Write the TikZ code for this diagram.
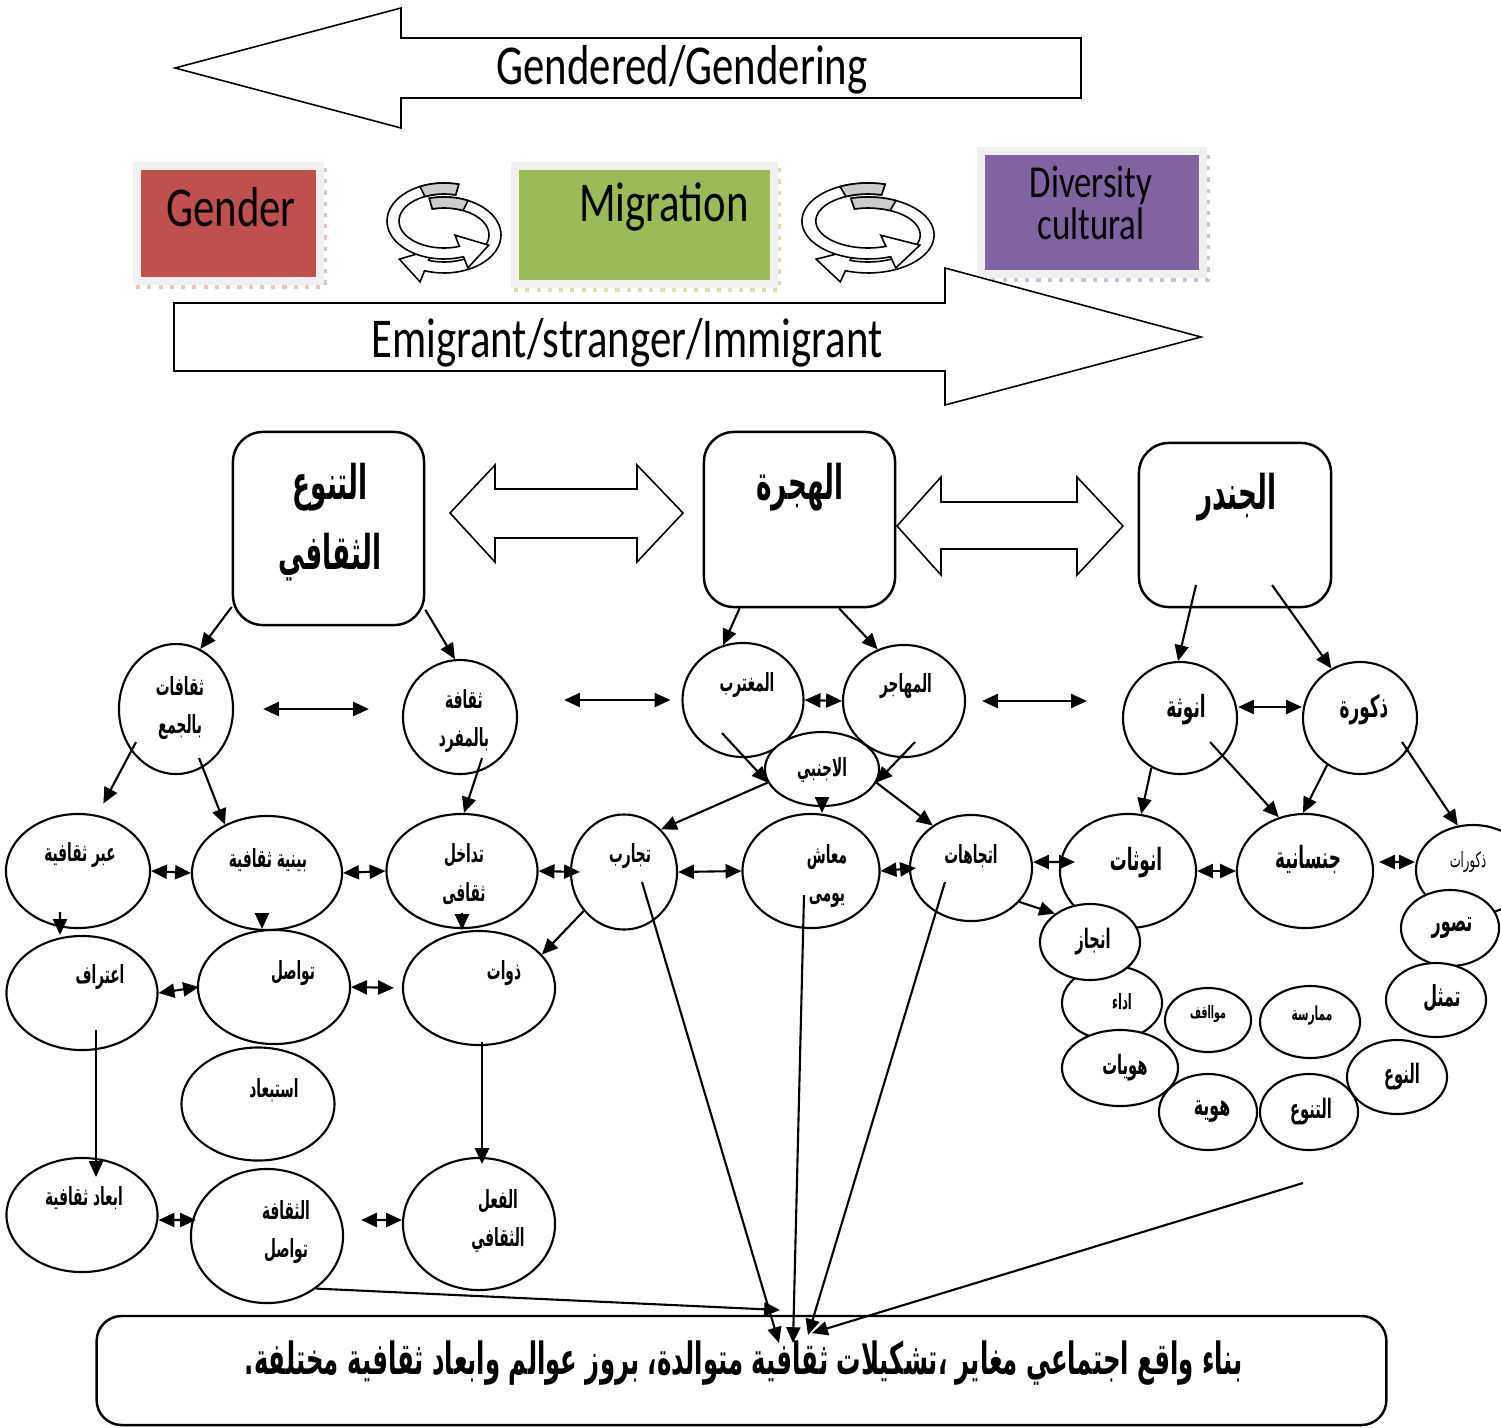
\documentclass[tikz,border=0pt]{standalone}
\usepackage{fontspec}
\setmainfont{Liberation Sans}
\newfontfamily\arabicfont[Script=Arabic, FakeStretch=0.55]{DejaVu Sans}
\newfontfamily\enfont{Carlito}[FakeStretch=0.76]
\TeXXeTstate=1
\usetikzlibrary{shapes.geometric,arrows.meta}
\definecolor{genred}{HTML}{C0504D}
\definecolor{miggreen}{HTML}{9BBB59}
\definecolor{divpurple}{HTML}{8064A2}
\newcommand\artxt[1]{\beginR #1\endR}

\begin{document}
\begin{tikzpicture}[x=0.01cm, y=-0.01cm,
	bub/.style={ellipse, draw, fill=white, line width=0.6pt, inner sep=0pt},
	lbl/.style={font=\arabicfont\bfseries\fontsize{#1}{11}\selectfont, align=center, inner sep=0pt},
	ttl/.style={font=\arabicfont\bfseries\fontsize{13.6}{20}\selectfont, align=center, inner sep=0pt},
	entxt/.style={font=\enfont\fontsize{16}{20}\selectfont, inner sep=0pt},
	topbox/.style={draw, rounded corners=0.3cm, line width=0.7pt},
	tile/.style={draw=black!6, line width=0.08cm, inner sep=0pt},
	blk/.style={draw, fill=white, line width=0.45pt},
	arr/.style={-{Triangle[length=4.5pt,width=4pt]}, line width=0.6pt},
	dbl/.style={{Triangle[length=4.5pt,width=4pt]}-{Triangle[length=4.5pt,width=4pt]}, line width=0.6pt}]
	\useasboundingbox (0,0) rectangle (1501,1427);

	% block arrows at the top
	\draw[blk] (175,68) -- (401,8) -- (401,38) -- (1081,38) -- (1081,98) -- (401,98) -- (401,128) -- cycle;
	\node[entxt] (gendering) at (682,70) {Gendered/Gendering};

	% coloured tiles
	\draw[genred!35, line width=1.2pt, dotted] (136,287) -- (325,287) -- (325,166);
	\draw[miggreen!45, line width=1.2pt, dotted] (514,290) -- (779,290) -- (779,166);
	\draw[divpurple!40, line width=1.2pt, dotted] (980,280) -- (1208,280) -- (1208,151);
	\node[tile, fill=genred, minimum width=1.83cm, minimum height=1.15cm] (gender) at (228.5,223.5) {};
	\node[tile, fill=miggreen, minimum width=2.59cm, minimum height=1.18cm] (migration) at (644.5,225) {};
	\node[tile, fill=divpurple, minimum width=2.22cm, minimum height=1.23cm] (diversity) at (1092,212.5) {};
	\node[entxt] (gender-t) at (231,207) {Gender};
	\node[entxt] (migration-t) at (664,207) {Migration};
	\node[entxt, font=\enfont\fontsize{13}{11}\selectfont, align=center] (diversity-t) at (1091,203) {Diversity\\cultural};

	% turning arrows
	\def\cycarr{
		\filldraw[fill=white, line width=0.45pt] plot[domain=-105:110, samples=40] ({57*cos(\x)},{14+38*sin(\x)})
			-- (-23.9,60.9) -- (-44.7,38.2) -- (-11,28.2)
			-- plot[domain=110:-105, samples=40] ({45*cos(\x)},{14+27*sin(\x)}) -- cycle;
		\filldraw[fill=black!20, line width=0.45pt] plot[domain=-105:-65, samples=10] ({57*cos(\x)},{14+38*sin(\x)})
			-- plot[domain=-65:-105, samples=10] ({45*cos(\x)},{14+27*sin(\x)}) -- cycle;
		\filldraw[fill=white, line width=0.45pt] plot[domain=-75:-290, samples=40] ({57*cos(\x)},{38*sin(\x)})
			-- (23.9,46.9) -- (44.7,24.2) -- (11,14.2)
			-- plot[domain=-290:-75, samples=40] ({45*cos(\x)},{27*sin(\x)}) -- cycle;
		\filldraw[fill=black!20, line width=0.45pt] plot[domain=-75:-115, samples=10] ({57*cos(\x)},{38*sin(\x)})
			-- plot[domain=-115:-75, samples=10] ({45*cos(\x)},{27*sin(\x)}) -- cycle;
	}
	\begin{scope}[shift={(444,221)}]
		\cycarr
	\end{scope}
	\begin{scope}[shift={(868,221)}, xscale=1.16]
		\cycarr
	\end{scope}

	\draw[blk] (174,303) -- (945,303) -- (945,268) -- (1201,337) -- (945,405) -- (945,371) -- (174,371) -- cycle;
	\node[entxt] (emigrant) at (627,343) {Emigrant/stranger/Immigrant};

	% three main boxes
	\node[topbox, minimum width=1.91cm, minimum height=1.93cm] (tanawwu) at (328.5,528.5) {};
	\node[topbox, minimum width=1.91cm, minimum height=1.75cm] (hijra) at (799.5,519.5) {};
	\node[topbox, minimum width=1.92cm, minimum height=1.64cm] (jender) at (1235,525) {};
	\node[ttl] (tanawwu-t) at (330,522) {\artxt{التنوع}\\\artxt{الثقافي}};
	\node[ttl] (hijra-t) at (800,487) {\artxt{الهجرة}};
	\node[ttl] (jender-t) at (1237,497) {\artxt{الجندر}};
	\draw[blk] (450,513) -- (495,465) -- (495,489) -- (637,489) -- (637,465) -- (683,513)
		-- (637,562) -- (637,538) -- (495,538) -- (495,562) -- cycle;
	\draw[blk] (897,526) -- (941,477) -- (941,502) -- (1077,502) -- (1077,477) -- (1123,526)
		-- (1077,575) -- (1077,549) -- (941,549) -- (941,575) -- cycle;

	% ellipses: name/x/y/width/height/text x/text y/size/text
	\foreach \n/\x/\y/\w/\h/\tx/\ty/\fs/\t in {
		jam/176/709/1.14/1.30/180/708/7.1/{\artxt{ثقافات}\\\artxt{بالجمع}},
		mufrad/460/717/1.14/1.14/464/721/7.1/{\artxt{ثقافة}\\\artxt{بالمفرد}},
		abr/78/871/1.44/1.14/80/855/7.1/{\artxt{عبر ثقافية}},
		bayni/267/873/1.50/1.14/268/860/7.1/{\artxt{بينية ثقافية}},
		tadakhul/462/871/1.51/1.14/464/874/7.1/{\artxt{تداخل}\\\artxt{ثقافى}},
		itiraf/82/993/1.51/1.14/100/977/7.1/{\artxt{اعتراف}},
		tawasul/274/987/1.52/1.14/293/973/7.1/{\artxt{تواصل}},
		dhawat/479/988/1.52/1.14/504/973/7.1/{\artxt{ذوات}},
		istibad/258/1104/1.53/1.13/274/1090/7.1/{\artxt{استبعاد}},
		abad/82/1215/1.51/1.14/84/1198/7.1/{\artxt{ابعاد ثقافية}},
		thaqafa/267/1236/1.52/1.34/286/1232/7.1/{\artxt{الثقافة}\\\artxt{تواصل}},
		fil/479/1224/1.52/1.32/498/1221/7.1/{\artxt{الفعل}\\\artxt{الثقافي}},
		mughtarib/743/700/1.21/1.14/747/685/7.1/{\artxt{المغترب}},
		muhajir/904/701/1.22/1.12/906/686/7.1/{\artxt{المهاجر}},
		ajnabi/822/769/1.14/0.74/822/770/7.1/{\artxt{الاجنبي}},
		tajarib/624/872/1.06/1.15/630/856/7.1/{\artxt{تجارب}},
		maash/811/871/1.37/1.14/827/876/7.1/{\artxt{معاش}\\\artxt{يومى}},
		ittijahat/971/868/1.22/1.06/971/856/7.1/{\artxt{اتجاهات}},
		unutha/1180/718/1.14/1.12/1186/710/8.7/{\artxt{انوثة}},
		dhukura/1360/718/1.14/1.12/1364/710/8.7/{\artxt{ذكورة}},
		unuthat/1128/871/1.36/1.14/1136/863/8.7/{\artxt{انوثات}},
		jinsaniya/1305/871/1.36/1.14/1308/860/8.7/{\artxt{جنسانية}},
		dhukurat/1473/870/1.14/0.90/1468/862/6/{\mdseries\artxt{ذكورات}},
		tasawwur/1450/928/0.98/0.76/1452/928/8.2/{\artxt{تصور}},
		tamaththul/1436/1000/1.00/0.74/1442/998/8.2/{\artxt{تمثل}},
		adaa/1112/1003/1.00/0.74/1122/1002/6/{\artxt{اداء}},
		huwiyyat/1120/1068/1.16/0.76/1125/1068/7.6/{\artxt{هويات}},
		injaz/1090/942/1.00/0.76/1093/942/7.6/{\artxt{انجاز}},
		mawaqif/1208/1020/0.86/0.64/1208/1014/4.9/{\artxt{موااقف}},
		mumarasa/1310/1022/1.00/0.72/1312/1015/5.5/{\artxt{ممارسة}},
		huwiya/1208/1112/0.98/0.76/1212/1112/8.2/{\artxt{هوية}},
		altanawwu/1309/1112/0.98/0.76/1311/1112/7.6/{\artxt{التنوع}},
		naw/1397/1077/1.00/0.74/1402/1077/7.6/{\artxt{النوع}}} {
		\node[bub, minimum width=\w cm, minimum height=\h cm] (\n) at (\x,\y) {};
		\node[lbl=\fs] (\n-t) at (\tx,\ty) {\t};
	}

	% from the main boxes
	\draw[arr] (tanawwu.219) -- (jam.68);
	\draw[arr] (tanawwu.-40) -- (mufrad.95);
	\draw[arr] (hijra.-124) -- (mughtarib.110);
	\draw[arr] (hijra.-66) -- (muhajir.117);
	\draw[arr] ([xshift=-0.39cm,yshift=-0.6cm]jender.center) -- (unutha.92);
	\draw[arr] ([xshift=0.37cm,yshift=-0.6cm]jender.center) -- (dhukura.120);

	% left cluster
	\draw[arr, shorten >=0.13cm] ([xshift=-0.4cm,yshift=-0.33cm]jam.center) -- (abr.71);
	\draw[arr] ([xshift=0.23cm,yshift=-0.49cm]jam.center) -- (bayni.131);
	\draw[arr] ([xshift=0.22cm,yshift=-0.41cm]mufrad.center) -- (tadakhul.88);
	\draw[arr] ([xshift=-0.18cm,yshift=-0.41cm]abr.center) -- ([xshift=-0.22cm]itiraf.north);
	\draw[arr] ([xshift=-0.05cm,yshift=-0.4cm]bayni.center) -- ([xshift=-0.12cm]tawasul.north);
	\draw[arr] ([yshift=-0.42cm]tadakhul.center) -- ([xshift=-0.17cm]dhawat.north);
	\draw[arr] ([xshift=0.14cm,yshift=-0.37cm]itiraf.center) -- ([xshift=0.14cm,yshift=-0.2cm]abad.north);
	\draw[arr] ([xshift=0.03cm,yshift=-0.54cm]dhawat.center) -- ([xshift=0.03cm,yshift=-0.07cm]fil.north);
	\draw[arr] (tajarib.-136) -- (dhawat.28);

	% two-way links
	\draw[dbl, shorten <=0.29cm, shorten >=0.33cm] (jam.east) -- (jam.east -| mufrad.west);
	\draw[dbl, shorten <=0.46cm, shorten >=0.11cm] (mughtarib.west -| mufrad.east) -- (mughtarib.west);
	\draw[dbl, shorten <=0.16cm, shorten >=0.35cm] (muhajir.east) -- (muhajir.east -| unutha.west);
	\draw[dbl] (mughtarib.east) -- (muhajir.west);
	\draw[dbl] ([yshift=0.11cm]unutha.east) -- ([yshift=0.11cm]dhukura.west);
	\draw[dbl] (abr.east) -- (bayni.west);
	\draw[dbl] (bayni.east) -- (tadakhul.west);
	\draw[dbl] (tadakhul.east) -- ([xshift=0.1cm]tajarib.west);
	\draw[dbl] (tajarib.east) -- (maash.west);
	\draw[dbl] (maash.east) -- ([xshift=0.07cm]ittijahat.west);
	\draw[dbl] ([yshift=0.06cm]ittijahat.east) -- ([xshift=0.16cm,yshift=0.09cm]unuthat.west);
	\draw[dbl] (unuthat.east) -- (jinsaniya.west);
	\draw[dbl, shorten <=0.05cm] ([yshift=0.09cm]jinsaniya.east) -- ([yshift=0.08cm]dhukurat.west);
	\draw[dbl] (itiraf.east) -- ([xshift=0.02cm]tawasul.west);
	\draw[dbl, shorten >=0.08cm] (tawasul.east) -- (dhawat.west);
	\draw[dbl] ([yshift=-0.05cm]abad.east) -- ([xshift=0.06cm,yshift=0.16cm]thaqafa.west);
	\draw[dbl, shorten <=0.17cm] ([yshift=0.16cm]thaqafa.east) -- ([yshift=0.04cm]fil.west);

	% middle cluster
	\draw[arr] ([xshift=-0.21cm,yshift=-0.33cm]mughtarib.center) -- (ajnabi.194);
	\draw[arr] ([xshift=0.11cm,yshift=-0.41cm]muhajir.center) -- (ajnabi.-14);
	\draw[arr] (ajnabi.194) -- (tajarib.49);
	\draw[arr] ([yshift=0.09cm]ajnabi.south) -- ([xshift=0.11cm]maash.north);
	\draw[arr] (ajnabi.-14) -- (ittijahat.132);
	\draw[arr] (ittijahat.-35) -- (injaz.141);

	% right cluster
	\draw[arr] (unutha.-120) -- (unuthat.77);
	\draw[arr] ([xshift=0.3cm,yshift=-0.24cm]unutha.center) -- (jinsaniya.116);
	\draw[arr] (dhukura.-125) -- (jinsaniya.92);
	\draw[arr] ([xshift=0.42cm,yshift=-0.24cm]dhukura.center) -- (dhukurat.109);

	% result box
	\node[topbox, minimum width=12.89cm, minimum height=1.09cm, rounded corners=0.25cm] (result) at (741.5,1370.5) {};
	\node[ttl, font=\arabicfont\bfseries\fontsize{12.6}{16}\selectfont] (result-t) at (744,1363) {\artxt{بناء واقع اجتماعي مغاير ،تشكيلات ثقافية متوالدة، بروز عوالم وابعاد ثقافية مختلفة.}};
	\coordinate (in1) at (780,1310);
	\coordinate (in2) at (779,1343);
	\coordinate (in3) at (793,1343);
	\coordinate (in4) at (808,1335);
	\coordinate (in5) at (812,1333);
	\coordinate (gfree) at (1303,1183);
	\draw[arr] (thaqafa.-47) -- (in1);
	\draw[arr] ([xshift=0.18cm,yshift=-0.1cm]tajarib.center) -- (in2);
	\draw[arr] ([xshift=-0.07cm,yshift=-0.24cm]maash.center) -- (in3);
	\draw[arr] ([xshift=-0.26cm,yshift=-0.14cm]ittijahat.center) -- (in4);
	\draw[arr] (gfree) -- (in5);
\end{tikzpicture}
\end{document}
